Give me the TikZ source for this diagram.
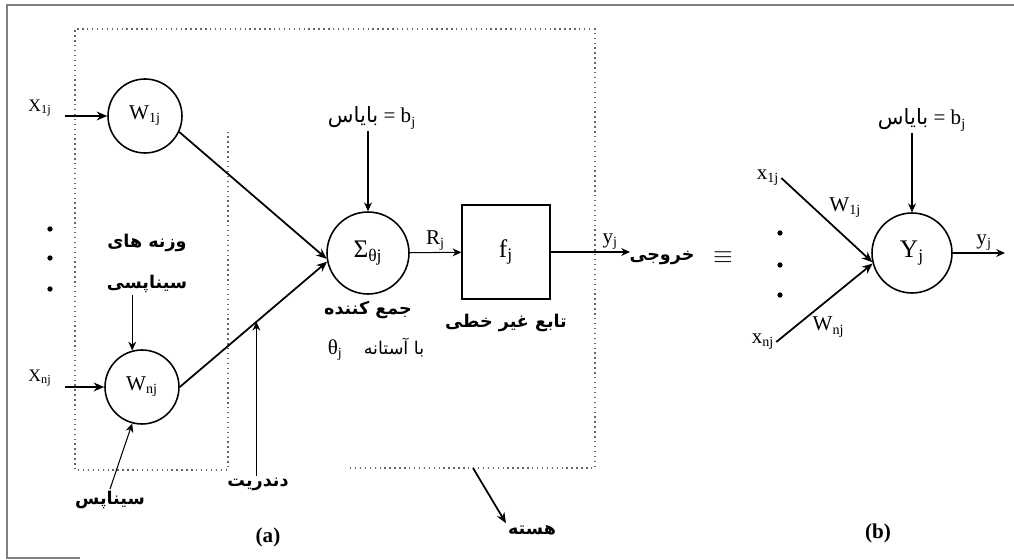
\documentclass[tikz,border=0pt]{standalone}
\usepackage{fontspec}
\setmainfont{Liberation Serif}
\newfontfamily\fafont[Script=Arabic]{DejaVu Sans}
\TeXXeTstate=1
\usepackage{tikz}
\usetikzlibrary{arrows.meta,positioning}

\newcommand{\fa}[1]{{\fafont\beginR #1\endR}}

\begin{document}
\begin{tikzpicture}[
  x=0.02cm, y=-0.02cm,
  neuron/.style={draw, circle, line width=0.9pt, inner sep=0pt, minimum size=1.48cm, font=\large},
  fbox/.style={draw, line width=0.8pt, minimum width=1.76cm, minimum height=1.88cm, font=\Large},
  lbl/.style={font=\large, inner sep=1pt},
  falbl/.style={font=\normalsize\bfseries, inner sep=1pt},
  dotn/.style={circle, fill, inner sep=0pt, minimum size=3pt},
  arr/.style={-{Stealth[length=6pt,width=5pt]}, line width=1pt},
  thinarr/.style={-{Stealth[length=5pt,width=4.5pt]}, line width=0.6pt},
  region/.style={dotted, line width=0.8pt, black!60}
]
\useasboundingbox (0,0) rectangle (1014,560);
\draw[black!50, line width=0.6pt] (1014,5) -- (7,5) -- (7,558) -- (80,558);

% dotted regions
\draw[region] (350,468) -- (595,468) -- (595,29) -- (75,29) -- (75,470) -- (228,470) -- (228,130);

% (a) neuron
\node[neuron] (w1) at (145,116) {W\textsubscript{1j}};
\node[neuron] (wn) at (142,387) {W\textsubscript{nj}};
\node[neuron, minimum size=1.64cm, font=\Large] (sum) at (368,253) {Σ\textsubscript{θj}};
\node[fbox] (f) at (506,252) {f\textsubscript{j}};

\node[lbl, font=\normalsize] (x1) at (40,108) {X\textsubscript{1j}};
\node[lbl, font=\normalsize] (xn) at (40,378) {X\textsubscript{nj}};
\coordinate (x1in) at (65,116);
\coordinate (xnin) at (65,387);
\draw[arr] (x1in) -- (w1);
\draw[arr] (xnin) -- (wn);
\foreach \y [count=\i] in {229,258,289}
  \node[dotn] (da\i) at (50,\y) {};

\node[falbl] (wlab) at (147,243) {\fa{وزنه های}};
\node[falbl] (slab) at (147,284) {\fa{سیناپسی}};
\draw[thinarr] (slab.south -| wn.105) -- (wn.105);
\node[falbl] (syn) at (110,500) {\fa{سیناپس}};
\draw[thinarr] (syn.north) -- (wn.255);

\draw[arr] (w1.-25) -- (sum.188);
\draw[arr] (wn.east) -- coordinate[pos=0.52] (dendpt) (sum.192);
\node[falbl] (dlab) at (258,484) {\fa{دندریت}};
\draw[thinarr, line width=0.8pt] (dlab.north -| dendpt) -- (dendpt);

\node[lbl] (bias) at (372,118) {\fa{بایاس} = b\textsubscript{j}};
\draw[thinarr] (bias.south -| sum.north) -- (sum.north);
\node[falbl] (sumlab) at (368,310) {\fa{جمع کننده}};
\node[lbl] (thr) at (376,349) {θ\textsubscript{j}\quad\fa{\normalsize با آستانه}};

\draw[thinarr] (sum) -- node[lbl, above] (rlab) {R\textsubscript{j}} (f);
\node[falbl] (flab) at (506,323) {\fa{تابع غیر خطی}};
\coordinate (out) at (630,252);
\draw[thinarr] (f) -- node[lbl, above, pos=0.75] (ylab) {y\textsubscript{j}} (out);
\node[falbl] (outlab) at (662,258) {\fa{خروجی}};

\node[lbl, font=\Large] (eq) at (723,258) {$\equiv$};

\node[falbl] (corelab) at (532,530) {\fa{هسته}};
\coordinate (coreb) at (473,468);
\draw[arr] (coreb) -- (corelab.north west);

% (b) equivalent neuron
\node[neuron, minimum size=1.6cm, font=\Large] (Y) at (912,253) {Y\textsubscript{j}};
\node[lbl] (bx1) at (768,178) {x\textsubscript{1j}};
\node[lbl] (bxn) at (763,342) {x\textsubscript{nj}};
\draw[arr] (bx1.east) -- node[lbl, pos=0.5, above right] (bw1) {W\textsubscript{1j}} (Y.193);
\draw[arr] (bxn.east) -- node[lbl, pos=0.35, below right] (bwn) {W\textsubscript{nj}} (Y.195);
\foreach \y [count=\i] in {233,265,295}
  \node[dotn] (db\i) at (780,\y) {};
\node[lbl] (bbias) at (922,120) {\fa{بایاس} = b\textsubscript{j}};
\draw[thinarr] (bbias.south -| Y.north) -- (Y.north);
\coordinate (bout) at (1005,253);
\draw[thinarr] (Y) -- node[lbl, above, pos=0.6] (bylab) {y\textsubscript{j}} (bout);

\node[lbl, font=\large\bfseries] (capa) at (268,537) {(a)};
\node[lbl, font=\large\bfseries] (capb) at (878,533) {(b)};
\end{tikzpicture}
\end{document}
